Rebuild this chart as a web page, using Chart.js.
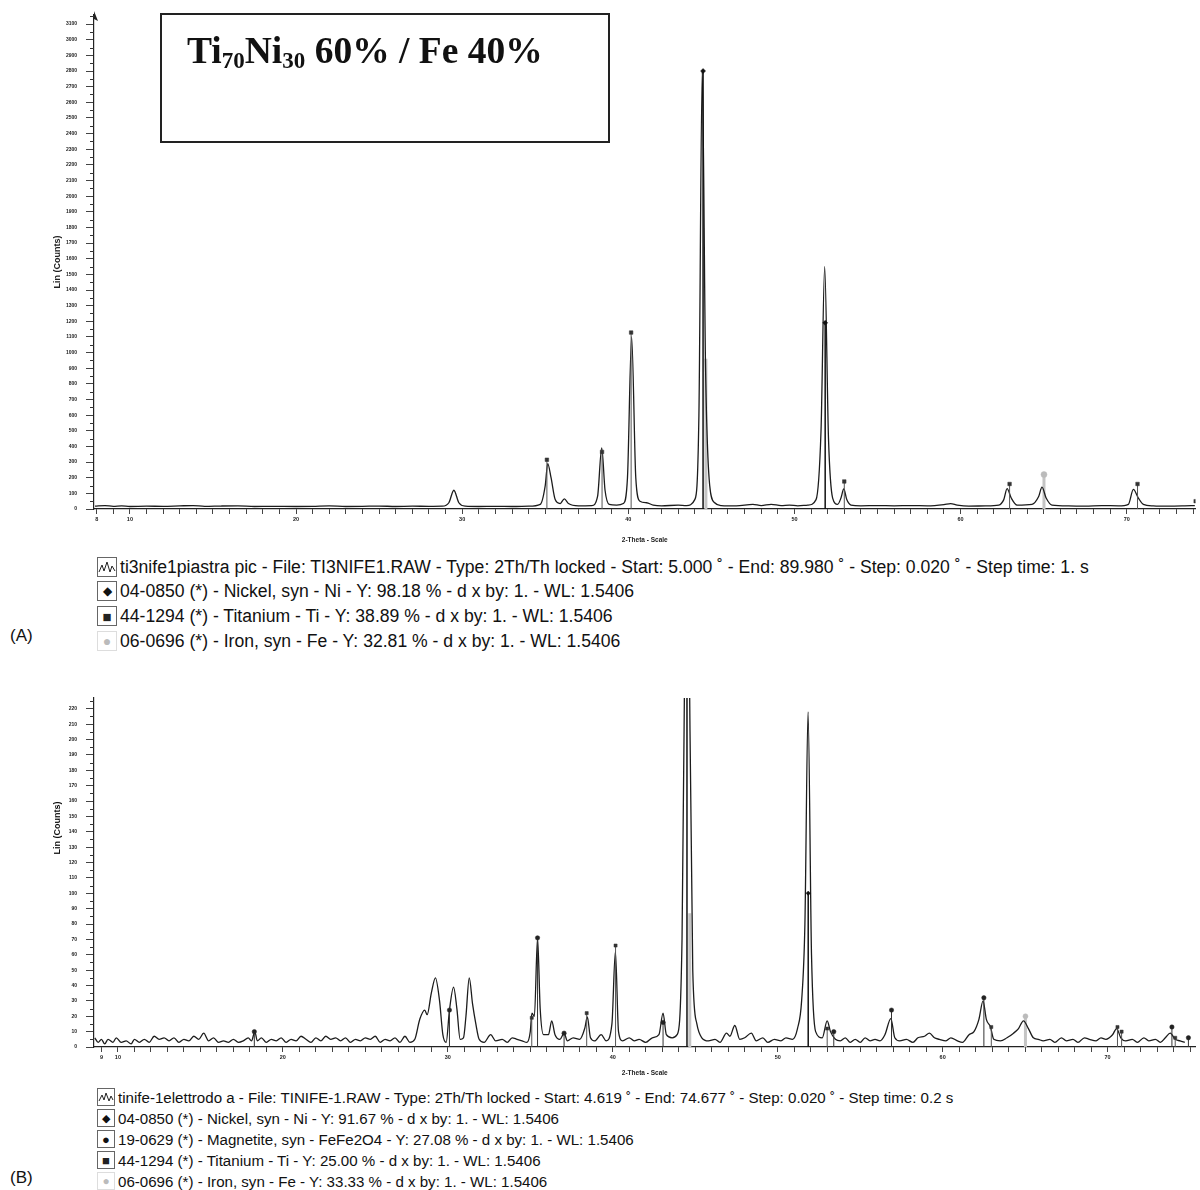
<!DOCTYPE html>
<html>
<head>
<meta charset="utf-8">
<script src="https://cdn.jsdelivr.net/npm/chart.js@4.4.1/dist/chart.umd.min.js"></script>
<style>
  body { margin: 0; background: #fff; width: 1200px; height: 1190px; position: relative; overflow: hidden;
         font-family: "Liberation Sans", Arial, sans-serif; color: #111; }
  canvas { position: absolute; left: 0; }
  #c1 { top: 0; }
  #c2 { top: 680px; }
  .box { position: absolute; left: 160px; top: 13px; width: 446px; height: 126px; border: 2px solid #222; }
  .box h1 { margin: 0; position: absolute; left: 25px; top: 14px; font: bold 37.5px "Liberation Serif", serif; white-space: nowrap; }
  .box sub { font-size: 23px; vertical-align: -5px; line-height: 0; }
  .row { position: absolute; left: 97px; display: flex; align-items: center; white-space: nowrap; }
  .ico { box-sizing: border-box; border: 1px solid #666; display: flex; align-items: center; justify-content: center; margin-right: 3px; background: #fff; }
  .A .row { font-size: 17.6px; height: 22px; }
  .A .ico { width: 20px; height: 20px; }
  .B .row { font-size: 15.1px; height: 20px; }
  .B .ico { width: 18px; height: 18px; }
  .tag { position: absolute; left: 10px; font-size: 17px; }
  .ylab { position: absolute; font: bold 9px "Liberation Sans", Arial, sans-serif; transform: rotate(-90deg); transform-origin: center; white-space: nowrap; }
</style>
</head>
<body>
<canvas id="c1" width="1200" height="546"></canvas>
<canvas id="c2" width="1200" height="400"></canvas>

<div class="box"><h1>Ti<sub>70</sub>Ni<sub>30</sub> 60% / Fe 40%</h1></div>

<div class="A">
  <div class="row" style="top:556px"><span class="ico"><svg width="18" height="14" viewBox="0 0 18 14"><polyline points="1,12 4,5 6,11 9,2 12,12 14,6 17,11" fill="none" stroke="#222" stroke-width="1"/></svg></span>ti3nife1piastra pic - File: TI3NIFE1.RAW - Type: 2Th/Th locked - Start: 5.000 ˚ - End: 89.980 ˚ - Step: 0.020 ˚ - Step time: 1. s</div>
  <div class="row" style="top:580px"><span class="ico" style="font-size:12px">◆</span>04-0850 (*) - Nickel, syn - Ni - Y: 98.18 % - d x by: 1. - WL: 1.5406</div>
  <div class="row" style="top:605px"><span class="ico" style="font-size:15px;color:#222">■</span>44-1294 (*) - Titanium - Ti - Y: 38.89 % - d x by: 1. - WL: 1.5406</div>
  <div class="row" style="top:630px"><span class="ico" style="font-size:14px;color:#bbb;border-color:#ddd">●</span>06-0696 (*) - Iron, syn - Fe - Y: 32.81 % - d x by: 1. - WL: 1.5406</div>
  <div class="tag" style="top:626px">(A)</div>
</div>

<div class="ylab" style="left:24px;top:823px;width:66px;text-align:center">Lin (Counts)</div>

<div class="B">
  <div class="row" style="top:1087px"><span class="ico"><svg width="16" height="12" viewBox="0 0 16 12"><polyline points="1,10 4,4 6,9 8,2 11,10 13,5 15,9" fill="none" stroke="#222" stroke-width="1"/></svg></span>tinife-1elettrodo a - File: TINIFE-1.RAW - Type: 2Th/Th locked - Start: 4.619 ˚ - End: 74.677 ˚ - Step: 0.020 ˚ - Step time: 0.2 s</div>
  <div class="row" style="top:1108px"><span class="ico" style="font-size:11px">◆</span>04-0850 (*) - Nickel, syn - Ni - Y: 91.67 % - d x by: 1. - WL: 1.5406</div>
  <div class="row" style="top:1129px"><span class="ico" style="font-size:13px">●</span>19-0629 (*) - Magnetite, syn - FeFe2O4 - Y: 27.08 % - d x by: 1. - WL: 1.5406</div>
  <div class="row" style="top:1150px"><span class="ico" style="font-size:13px;color:#222">■</span>44-1294 (*) - Titanium - Ti - Y: 25.00 % - d x by: 1. - WL: 1.5406</div>
  <div class="row" style="top:1171px"><span class="ico" style="font-size:12px;color:#bbb;border-color:#ddd">●</span>06-0696 (*) - Iron, syn - Fe - Y: 33.33 % - d x by: 1. - WL: 1.5406</div>
  <div class="tag" style="top:1168px">(B)</div>
</div>

<script>
// ---------- dati (A) ----------
const thetaA = [7.9, 8.5, 9, 9.5, 10, 11, 12, 13, 13.8, 14.5, 15.5, 16.5, 17.5, 18.5, 20, 21, 22, 23, 24, 25, 26, 27, 28,
  28.8, 29.2, 29.5, 29.8, 30.2, 31, 32, 33, 34, 34.7, 35.0, 35.15, 35.35, 35.6, 35.9, 36.15, 36.4, 37, 37.8, 38.15, 38.4,
  38.6, 38.85, 39.3, 39.7, 39.95, 40.2, 40.45, 40.7, 41.1, 41.5, 42, 43, 43.5, 44.0, 44.25, 44.45, 44.65, 44.9, 45.2,
  45.6, 46.5, 47.5, 48, 48.6, 49.2, 49.7, 50.2, 50.8, 51.3, 51.6, 51.82, 52.05, 52.3, 52.6, 52.8, 52.97, 53.15, 53.4,
  54, 55, 56, 57, 58, 59, 59.4, 59.8, 60.5, 61.5, 62.3, 62.6, 62.8, 63.05, 63.4, 64.3, 64.7, 64.9, 65.15, 65.5, 66.5,
  67.5, 68.5, 69.5, 70.1, 70.4, 70.7, 71.0, 71.6, 72.5, 73.5, 74.1];
const countsA = [18, 22, 17, 20, 16, 18, 17, 20, 22, 17, 19, 20, 16, 17, 16, 17, 20, 16, 17, 19, 16, 18, 17,
  18, 40, 120, 40, 18, 16, 17, 16, 18, 30, 150, 290, 200, 60, 35, 65, 35, 20, 22, 80, 390,
  120, 30, 25, 35, 200, 1100, 200, 50, 40, 25, 20, 25, 22, 60, 600, 2800, 900, 150, 40,
  22, 20, 30, 22, 30, 22, 25, 20, 25, 60, 500, 1550, 450, 70, 30, 70, 128, 60, 25,
  20, 22, 20, 22, 20, 28, 35, 25, 18, 20, 25, 60, 130, 70, 25, 30, 80, 140, 70, 25, 20,
  18, 22, 20, 30, 125, 70, 30, 20, 18, 20, 22];

// righe di riferimento (A)
const niPosA = [44.5, 51.85];            const niIntA = [2800, 1190];
const tiPosA = [35.1, 38.42, 40.17, 53.0, 62.95, 70.65, 74.15];
const tiIntA = [315, 365, 1128, 176, 160, 160, 50];
const fePosA = [44.67, 65.02];           const feIntA = [960, 220];

// ---------- dati (B) ----------
const thetaB = [8.6, 8.8, 9.0, 9.2, 9.4, 9.7, 9.9, 10.2, 10.5, 10.8, 11.0, 11.3, 11.6, 11.9, 12.2, 12.5, 12.8, 13.1,
  13.4, 13.7, 14.0, 14.3, 14.6, 14.9, 15.2, 15.5, 15.8, 16.1, 16.4, 16.7, 17.0, 17.3, 17.6, 17.9, 18.1, 18.3, 18.45,
  18.7, 19.0, 19.3, 19.6, 19.9, 20.2, 20.5, 20.8, 21.1, 21.4, 21.7, 22.0, 22.3, 22.6, 22.9, 23.2, 23.5, 23.8, 24.1,
  24.4, 24.7, 25.0, 25.3, 25.6, 25.9, 26.2, 26.5, 26.8, 27.1, 27.4, 27.7, 28.0, 28.3, 28.6, 28.75, 29.0, 29.25, 29.5,
  29.7, 29.9, 30.1, 30.35, 30.55, 30.75, 30.95, 31.1, 31.3, 31.5, 31.7, 31.9, 32.2, 32.6, 32.9, 33.3, 33.6, 33.9, 34.2,
  34.5, 34.8, 35.0, 35.1, 35.25, 35.44, 35.6, 35.8, 36.1, 36.3, 36.5, 36.8, 37.05, 37.25, 37.6, 38.0, 38.3, 38.46,
  38.65, 38.9, 39.3, 39.6, 39.95, 40.16, 40.35, 40.6, 41.0, 41.3, 41.6, 42.0, 42.4, 42.8, 43.05, 43.25, 43.6, 43.9,
  44.2, 44.4, 44.5, 44.6, 44.85, 45.1, 45.4, 45.8, 46.2, 46.5, 46.9, 47.1, 47.4, 47.7, 48.0, 48.4, 48.7, 49.1, 49.4,
  49.8, 50.2, 50.5, 50.9, 51.2, 51.45, 51.65, 51.84, 52.05, 52.3, 52.7, 53.0, 53.2, 53.5, 53.8, 54.1, 54.4, 54.7, 55.0,
  55.3, 55.6, 55.9, 56.2, 56.5, 56.86, 57.1, 57.4, 57.8, 58.2, 58.5, 58.9, 59.2, 59.5, 59.8, 60.2, 60.5, 60.9, 61.2,
  61.6, 61.9, 62.2, 62.45, 62.65, 62.9, 63.1, 63.5, 63.9, 64.3, 64.6, 64.9, 65.2, 65.5, 65.8, 66.1, 66.5, 66.8, 67.2,
  67.5, 67.9, 68.2, 68.6, 68.9, 69.3, 69.6, 69.9, 70.3, 70.55, 70.8, 71.1, 71.5, 71.8, 72.2, 72.5, 72.9, 73.2, 73.5,
  73.8, 74.1, 74.4, 74.68];
const countsB = [6, 3, 5, 2, 5, 3, 6, 3, 4, 2, 5, 3, 5, 3, 7, 5, 6, 4,
  6, 3, 5, 4, 7, 5, 9, 4, 6, 3, 4, 3, 5, 3, 4, 6, 4, 10, 4,
  6, 3, 5, 4, 6, 3, 5, 4, 7, 5, 3, 6, 4, 7, 5, 6, 4, 6, 3,
  5, 4, 6, 5, 7, 3, 5, 4, 6, 3, 7, 3, 5, 18, 24, 21, 35, 45, 30,
  8, 3, 24, 39, 25, 5, 6, 20, 45, 28, 15, 5, 3, 8, 4, 5, 3, 6, 5,
  4, 3, 10, 22, 20, 71, 25, 8, 8, 17, 8, 5, 9, 4, 6, 5, 12, 19.5,
  6, 4, 8, 4, 15, 62, 10, 4, 6, 4, 5, 3, 6, 8, 22, 8, 6, 8,
  70, 300, 400, 300, 50, 15, 6, 4, 5, 3, 9, 7, 14, 5, 6, 9, 4, 6, 3,
  5, 4, 6, 5, 12, 30, 80, 218, 60, 10, 6, 17, 10, 5, 4, 6, 3, 5, 3,
  6, 4, 5, 4, 8, 18.5, 6, 4, 5, 3, 6, 7, 9, 6, 5, 4, 6, 4, 3,
  8, 10, 18, 30, 18, 13, 5, 4, 6, 9, 12, 17, 12, 6, 5, 4, 5, 3, 6,
  4, 5, 3, 6, 5, 4, 6, 5, 8, 12, 6, 4, 5, 3, 6, 4, 5, 3, 6,
  9, 5, 4, 3];

// righe di riferimento (B)
const niPosB = [44.5, 51.85];            const niIntB = [238, 100];
const mgPosB = [18.27, 30.1, 35.44, 37.05, 43.05, 53.4, 56.9, 62.5, 73.9, 74.9];
const mgIntB = [10, 24, 71, 9, 16, 10, 24, 32, 13, 6];
const tiPosB = [35.09, 38.42, 40.17, 53.0, 62.95, 70.6, 70.85, 74.1];
const tiIntB = [19, 22, 66, 12, 13, 13, 10, 6];
const fePosB = [44.67, 65.02];           const feIntB = [87, 20];

// ---------- helper ----------
const pts = (xs, ys) => xs.map((x, i) => ({ x: x, y: ys[i] }));
const sticks = (xs, ys) => xs.flatMap((x, i) => [{ x: x, y: 0 }, { x: x, y: ys[i] }, { x: x, y: null }]);

function traceSet(xs, ys) {
  return { data: pts(xs, ys), borderColor: '#1c1c1c', borderWidth: 1.3, pointRadius: 0,
           cubicInterpolationMode: 'monotone', order: 2 };
}
function stickSet(xs, ys, color, w, order) {
  return { data: sticks(xs, ys), borderColor: color, borderWidth: w, pointRadius: 0, spanGaps: false, order: order };
}
function markSet(xs, ys, style, color, r) {
  return { data: pts(xs, ys), showLine: false, pointStyle: style, pointRadius: r,
           pointBackgroundColor: color, pointBorderColor: color, pointBorderWidth: 0.5, order: 0 };
}

// tacche secondarie + freccia sull'asse y
const axisExtras = {
  id: 'axisExtras',
  afterDraw(chart, args, opts) {
    const { ctx, chartArea } = chart;
    const y = chart.scales.y;
    ctx.save();
    ctx.strokeStyle = '#333';
    ctx.lineWidth = 1;
    for (let v = opts.minor; v <= y.max; v += opts.minor * 2) {
      const py = Math.round(y.getPixelForValue(v)) + 0.5;
      ctx.beginPath(); ctx.moveTo(chartArea.left - 4, py); ctx.lineTo(chartArea.left, py); ctx.stroke();
    }
    if (opts.arrow) {
      ctx.fillStyle = '#222';
      ctx.beginPath();
      ctx.moveTo(chartArea.left, chartArea.top - 4);
      ctx.lineTo(chartArea.left + 4, chartArea.top + 6);
      ctx.lineTo(chartArea.left, chartArea.top + 4);
      ctx.closePath(); ctx.fill();
    }
    ctx.restore();
  }
};

function options(o) {
  return {
    responsive: false, animation: false,
    layout: { padding: { top: o.padTop, right: 2, left: 0, bottom: 0 } },
    plugins: { legend: { display: false }, tooltip: { enabled: false },
               axisExtras: { minor: o.minor, arrow: o.arrow } },
    scales: {
      x: {
        type: 'linear', min: o.xmin, max: o.xmax, offset: false,
        afterFit: s => { s.height = o.xh; },
        afterBuildTicks: s => {
          const t = [];
          for (let v = Math.ceil(s.min); v <= s.max; v++) t.push({ value: v });
          s.ticks = t;
        },
        ticks: { autoSkip: false, maxRotation: 0, color: '#222', padding: 2,
                 font: { size: 5.5, weight: 'bold', family: 'Liberation Sans' },
                 callback: (v, i) => (v % 10 === 0 || i === 0) ? String(v) : '' },
        grid: { drawOnChartArea: false, tickLength: 5, color: '#444' },
        border: { color: '#222', width: 1.2 },
        title: { display: true, text: '2-Theta - Scale', color: '#222',
                 font: { size: 6.5, weight: 'bold', family: 'Liberation Sans' }, padding: { bottom: o.titlePad } }
      },
      y: {
        min: 0, max: o.ymax,
        afterFit: s => { s.width = 94; },
        afterBuildTicks: s => {
          const t = [];
          for (let v = 0; v <= o.ytop; v += o.ystep) t.push({ value: v });
          s.ticks = t;
        },
        ticks: { autoSkip: false, color: '#222', padding: 9,
                 font: { size: 5, weight: 'bold', family: 'Liberation Sans' },
                 callback: v => String(v) },
        grid: { drawOnChartArea: false, tickLength: 8, color: '#444' },
        border: { color: '#222', width: 1.2 },
        title: { display: o.ytitle, text: 'Lin (Counts)', color: '#222',
                 font: { size: 9, weight: 'bold', family: 'Liberation Sans' }, padding: { top: 52 } }
      }
    }
  };
}

new Chart(document.getElementById('c1'), {
  type: 'line',
  data: { datasets: [
    stickSet(fePosA, feIntA, '#c4c4c4', 3, 3),
    traceSet(thetaA, countsA),
    stickSet(tiPosA, tiIntA, '#555', 1, 1),
    stickSet(niPosA, niIntA, '#111', 1.5, 1),
    markSet(tiPosA, tiIntA, 'rect', '#333', 2.5),
    markSet(niPosA, niIntA, 'rectRot', '#111', 2.5),
    markSet(fePosA.slice(1), feIntA.slice(1), 'circle', '#bbb', 3)
  ] },
  options: options({ padTop: 15, xmin: 7.84, xmax: 74.14, xh: 37, titlePad: 2,
                     ymax: 3158, ytop: 3100, ystep: 100, minor: 50, arrow: true, ytitle: true }),
  plugins: [axisExtras]
});

new Chart(document.getElementById('c2'), {
  type: 'line',
  data: { datasets: [
    stickSet(fePosB, feIntB, '#c4c4c4', 3, 3),
    traceSet(thetaB, countsB),
    stickSet(mgPosB, mgIntB, '#333', 1, 1),
    stickSet(tiPosB, tiIntB, '#555', 1, 1),
    stickSet(niPosB, niIntB, '#111', 1.5, 1),
    markSet(mgPosB, mgIntB, 'circle', '#222', 2.2),
    markSet(tiPosB, tiIntB, 'rect', '#333', 2.2),
    markSet(niPosB.slice(1), niIntB.slice(1), 'rectRot', '#111', 2.2),
    markSet(fePosB.slice(1), feIntB.slice(1), 'circle', '#bbb', 2.5)
  ] },
  options: options({ padTop: 18, xmin: 8.55, xmax: 75.33, xh: 33, titlePad: 3,
                     ymax: 227, ytop: 220, ystep: 10, minor: 5, arrow: false, ytitle: false }),
  plugins: [axisExtras]
});
</script>
</body>
</html>
